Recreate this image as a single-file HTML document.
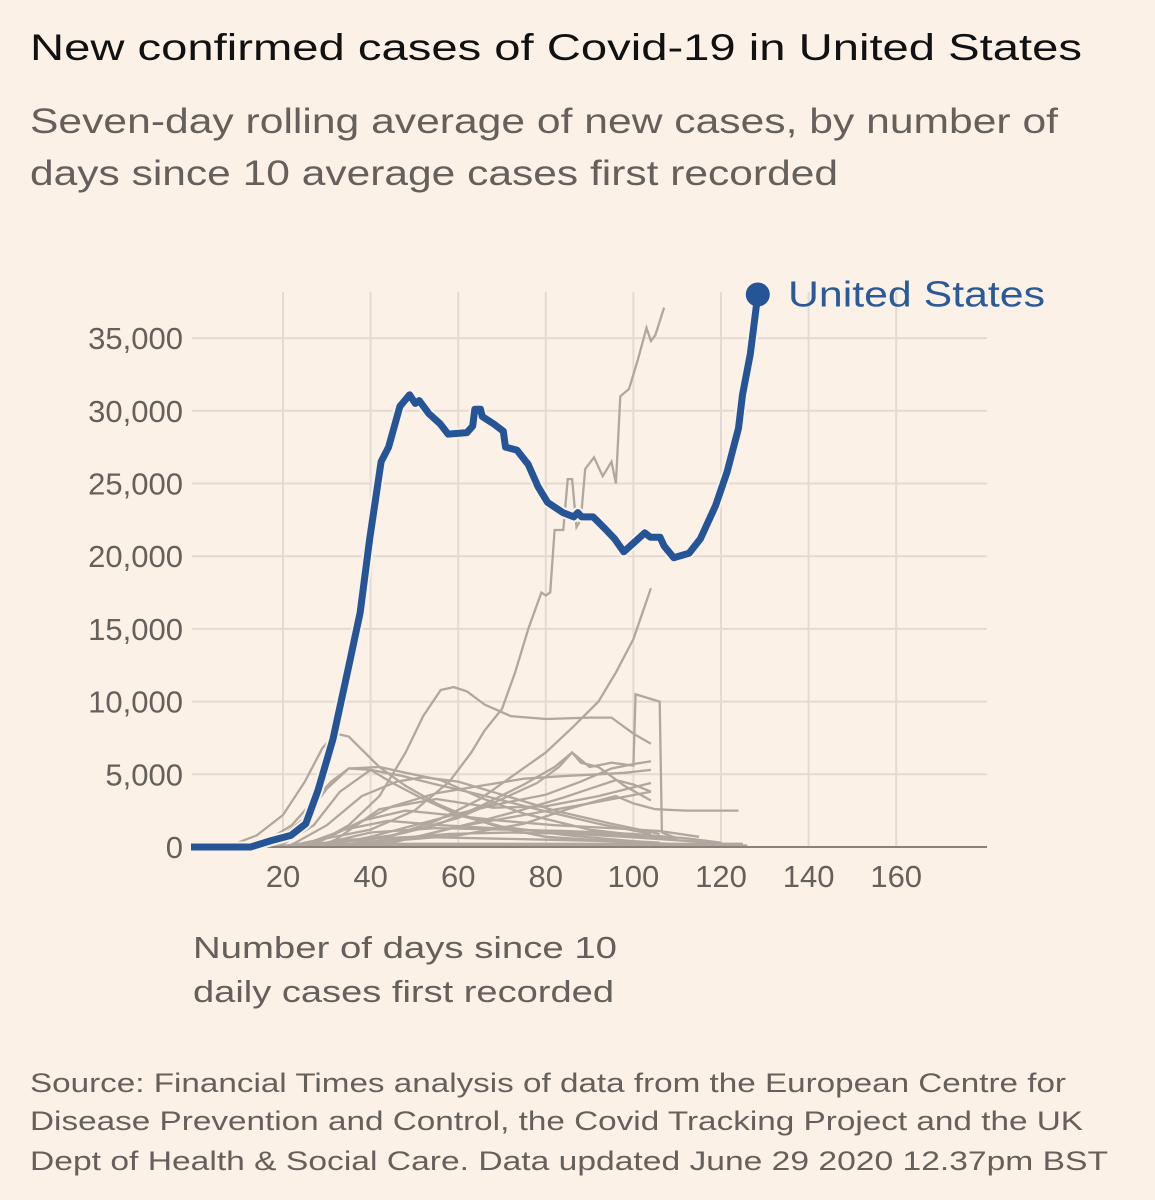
<!DOCTYPE html>
<html><head><meta charset="utf-8"><style>
html,body{margin:0;padding:0;background:#fcf1e6;}
svg{display:block;font-family:"Liberation Sans",sans-serif;}
</style></head><body>
<svg id="chart" width="1155" height="1200" viewBox="0 0 1155 1200">
<rect width="1155" height="1200" fill="#fcf1e6"/>
<text x="30" y="60" font-size="37" fill="#111" textLength="1052" lengthAdjust="spacingAndGlyphs">New confirmed cases of Covid-19 in United States</text>
<text x="30" y="133" font-size="35" fill="#66605c" textLength="1028" lengthAdjust="spacingAndGlyphs">Seven-day rolling average of new cases, by number of</text>
<text x="30" y="185" font-size="35" fill="#66605c" textLength="808" lengthAdjust="spacingAndGlyphs">days since 10 average cases first recorded</text>
<g id="grid"></g>
<g id="yticks"></g>
<g id="xticks"></g>
<g id="greys"></g>
<g id="us"></g>
<text x="193" y="958" font-size="31" fill="#66605c" textLength="424" lengthAdjust="spacingAndGlyphs">Number of days since 10</text>
<text x="193" y="1002" font-size="31" fill="#66605c" textLength="421" lengthAdjust="spacingAndGlyphs">daily cases first recorded</text>
<text x="30" y="1092" font-size="27" fill="#66605c" textLength="1036" lengthAdjust="spacingAndGlyphs">Source: Financial Times analysis of data from the European Centre for</text>
<text x="30" y="1130" font-size="27" fill="#66605c" textLength="1053" lengthAdjust="spacingAndGlyphs">Disease Prevention and Control, the Covid Tracking Project and the UK</text>
<text x="30" y="1170" font-size="27" fill="#66605c" textLength="1078" lengthAdjust="spacingAndGlyphs">Dept of Health &amp; Social Care. Data updated June 29 2020 12.37pm BST</text>
</svg>
<script>
const yTicks=[0,5000,10000,15000,20000,25000,30000,35000];
const yTickLabels=["0","5,000","10,000","15,000","20,000","25,000","30,000","35,000"];
const xTicks=[20,40,60,80,100,120,140,160];
const xTickLabels=["20","40","60","80","100","120","140","160"];
const usDays=[-1,12.6,17.4,21.8,25.2,28,31.4,34.9,37.6,39.8,42.4,44.1,46.7,48.9,50.2,51.1,53.3,55.9,57.7,62,63.3,63.8,65.1,65.5,68.1,70.3,70.8,73.4,76,78.2,80.4,83.9,86.4,87.3,88.2,90.8,93.5,95.7,97.8,100,102.6,103.9,106.1,107,109.2,112.7,115.3,118.8,121.4,124,124.9,126.7,128.4];
const usValues=[0,0,450,800,1600,3900,7400,12300,16100,21200,26500,27500,30300,31100,30500,30700,29800,29100,28400,28500,28950,30100,30100,29600,29100,28600,27500,27300,26300,24800,23700,23000,22700,23000,22700,22700,21900,21200,20300,20900,21600,21300,21300,20700,19900,20200,21200,23500,25800,28800,31100,33900,38000];
const brazilDays=[25,40,50,58,63,66,70,73,76,79,80,81,82,84,85,86,87,88,89,91,93,95,96,97,99,101,103,104,105,107];
const brazilValues=[300,1200,2500,4500,6500,8000,9500,12000,15000,17500,17300,17500,21800,21800,25300,25300,22000,22500,26000,26800,25500,26500,25000,31000,31500,33500,35700,34800,35200,37100];
const indiaDays=[30,45,55,65,72,80,86,92,96,100,104];
const indiaValues=[200,800,1800,3300,4800,6500,8200,10000,12000,14300,17800];
const russiaDays=[28,35,42,48,52,56,59,62,66,72,80,90,95,100,104];
const russiaValues=[300,1500,3500,6500,9000,10800,11000,10700,9800,9000,8800,8900,8900,7800,7100];
const italyDays=[8,14,20,25,29,32,35,38,42,48,55,62,70,80,95,105];
const italyValues=[100,800,2200,4500,6800,7800,7600,6700,5500,4200,3000,2100,1300,700,400,200];
const chileDays=[30,45,55,65,75,82,86,90,95,100,100.5,106,106.5,110];
const chileValues=[200,800,1500,2800,4300,5500,6500,5500,5800,5600,10500,10000,1000,600];
const pakDays=[40,60,75,85,92,96,100,105,112,124];
const pakValues=[300,800,1600,2600,3200,3500,3000,2600,2500,2500];
const g1Days=[15,22,27,31,35,40,45,52,60,70,85,100,106];
const g1Values=[200,1500,3200,4500,5400,5300,4400,3300,2200,1400,800,400,300];
const g2Days=[18,25,30,35,42,48,56,65,75,90,104];
const g2Values=[300,2000,4000,5400,5500,5100,4600,3400,2300,1200,700];
const g3Days=[20,27,33,40,47,55,65,78,92,104];
const g3Values=[200,1500,3800,5300,4900,4300,3600,2600,1600,900];
const g4Days=[25,35,45,55,65,75,85,92,98,104];
const g4Values=[200,1300,2800,3700,4200,4700,4900,5000,5100,5300];
const g5Days=[30,40,50,60,70,80,88,95,100,104];
const g5Values=[100,700,1500,2300,3000,3600,4500,5400,5700,5900];
const g6Days=[35,48,60,70,78,83,86,88,92,98,104];
const g6Values=[200,1000,2000,3300,4400,5500,6500,5800,5500,4200,3200];
const g7Days=[22,30,38,46,52,60,70,82,95,106];
const g7Values=[150,1500,3500,4500,4800,4500,3600,2500,1600,900];
const g8Days=[40,52,64,74,84,90,96,100,104];
const g8Values=[200,800,1700,2500,3400,4000,4600,4300,3800];
const g9Days=[28,38,48,58,70,82,95,106,115];
const g9Values=[300,1800,2500,2200,1800,1500,1300,1100,700];
const g10Days=[32,42,55,68,80,92,104];
const g10Values=[500,2600,3300,2700,2800,3500,4400];
const g11Days=[26,34,44,56,68,80,92,102,110];
const g11Values=[200,1200,1800,1500,1300,1100,900,700,500];
const g12Days=[30,40,55,70,85,100,112,120];
const g12Values=[300,1000,1300,1200,1100,900,600,300];
const g13Days=[36,46,58,72,86,98,108,118,125];
const g13Values=[200,600,900,1000,900,700,500,300,100];
const g14Days=[25,35,50,65,80,95,110,126];
const g14Values=[100,500,700,600,500,400,200,100];
const g15Days=[45,60,75,90,104];
const g15Values=[300,1400,2200,3000,3800];
const greyDays=[brazilDays,indiaDays,russiaDays,italyDays,chileDays,pakDays,g1Days,g2Days,g3Days,g4Days,g5Days,g6Days,g7Days,g8Days,g9Days,g10Days,g11Days,g12Days,g13Days,g14Days,g15Days];
const greyValues=[brazilValues,indiaValues,russiaValues,italyValues,chileValues,pakValues,g1Values,g2Values,g3Values,g4Values,g5Values,g6Values,g7Values,g8Values,g9Values,g10Values,g11Values,g12Values,g13Values,g14Values,g15Values];

const NS="http://www.w3.org/2000/svg";
const X0=192,X1=987,Y0=847,YT=292;
function xs(d){return 195.4+d*4.38;}
function ys(v){return 847-v*72.7/5000;}
function mk(tag,attrs,parent){const e=document.createElementNS(NS,tag);for(const k in attrs)e.setAttribute(k,attrs[k]);parent.appendChild(e);return e;}
const grid=document.getElementById('grid');
yTicks.forEach((t,i)=>{if(t===0)return;
 const l=mk('line',{x1:X0,x2:X1,y1:ys(t),y2:ys(t),stroke:'#e3dbd3','stroke-width':2},grid);
 
 });
xTicks.forEach(t=>{
 const l=mk('line',{x1:xs(t),x2:xs(t),y1:YT,y2:Y0,stroke:'#e3dbd3','stroke-width':2},grid);
 
 });
const ya=document.getElementById('yticks');
yTicks.forEach((t,i)=>{
 const tx=mk('text',{x:183,y:ys(t)+11,'font-size':31,fill:'#66605c','text-anchor':'end'},ya);
 tx.textContent=yTickLabels[i];
 
 });
const xa=document.getElementById('xticks');
xTicks.forEach((t,i)=>{
 const tx=mk('text',{x:xs(t),y:887,'font-size':31,fill:'#66605c','text-anchor':'middle'},xa);
 tx.textContent=xTickLabels[i];
 
 });
const gg=document.getElementById('greys');
greyDays.forEach((ds,k)=>{
 const vs=greyValues[k];
 const pts=ds.map((d,i)=>xs(d).toFixed(1)+','+ys(vs[i]).toFixed(1));
 pts.unshift(xs(ds[0]-4).toFixed(1)+','+ys(0));
 const p=mk('polyline',{points:pts.join(' '),fill:'none',stroke:'#b0a79f','stroke-width':2.3},gg);
 
 });
const base=mk('rect',{x:xs(22),y:ys(300),width:xs(125)-xs(22),height:ys(0)-ys(300),fill:'#b0a79f'},gg);


const ax=mk('line',{x1:X0,x2:X1,y1:Y0,y2:Y0,stroke:'#8a817b','stroke-width':2},gg);


const ug=document.getElementById('us');
const up=mk('polyline',{points:usDays.map((d,i)=>xs(d).toFixed(1)+','+ys(usValues[i]).toFixed(1)).join(' '),fill:'none',stroke:'#fcf1e6','stroke-width':11,'stroke-linejoin':'round'},ug);


const ul=mk('polyline',{points:usDays.map((d,i)=>xs(d).toFixed(1)+','+ys(usValues[i]).toFixed(1)).join(' '),fill:'none',stroke:'#265597','stroke-width':7,'stroke-linejoin':'round'},ug);


const n=usDays.length-1;
const dot=mk('circle',{cx:xs(usDays[n]),cy:ys(usValues[n]),r:12,fill:'#265597'},ug);


const lab=mk('text',{x:788,y:ys(usValues[n])+12,'font-size':36,fill:'#2a5a9a',textLength:257,lengthAdjust:'spacingAndGlyphs'},ug);
lab.textContent='United States';


</script>
</body></html>
